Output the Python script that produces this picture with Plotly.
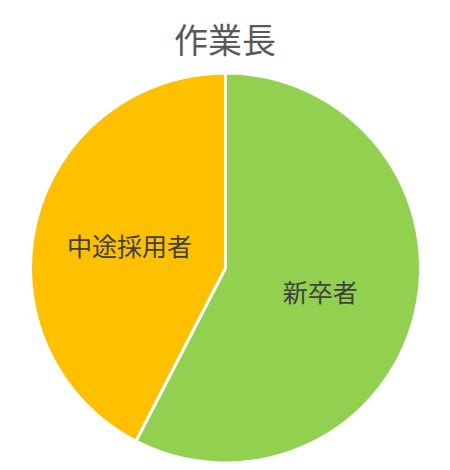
import plotly.graph_objects as go

labels = ["新卒者", "中途採用者"]
values = [57.6, 42.4]
colors = ["#92D050", "#FFC000"]
title_text = "作業長"

fig = go.Figure(go.Pie(
    labels=labels,
    values=values,
    sort=False,
    direction="clockwise",
    rotation=0,
    marker=dict(colors=colors, line=dict(color="#FFFFFF", width=3)),
    textinfo="label",
    textposition="inside",
    insidetextorientation="horizontal",
    textfont=dict(family="Noto Sans CJK JP", size=25, color="#404040"),
    domain=dict(x=[22/450, 413/450], y=[15/470, 405/470]),
    showlegend=False,
    hoverinfo="label+percent",
))

fig.update_layout(
    width=450, height=470,
    margin=dict(l=0, r=0, t=0, b=0),
    paper_bgcolor="white",
    plot_bgcolor="white",
    title=dict(text=title_text, x=217/450, xanchor="center", y=1 - 33/470, yanchor="middle",
               font=dict(family="Noto Sans CJK JP", size=34, color="#595959")),
)

fig.write_html("out.html")
